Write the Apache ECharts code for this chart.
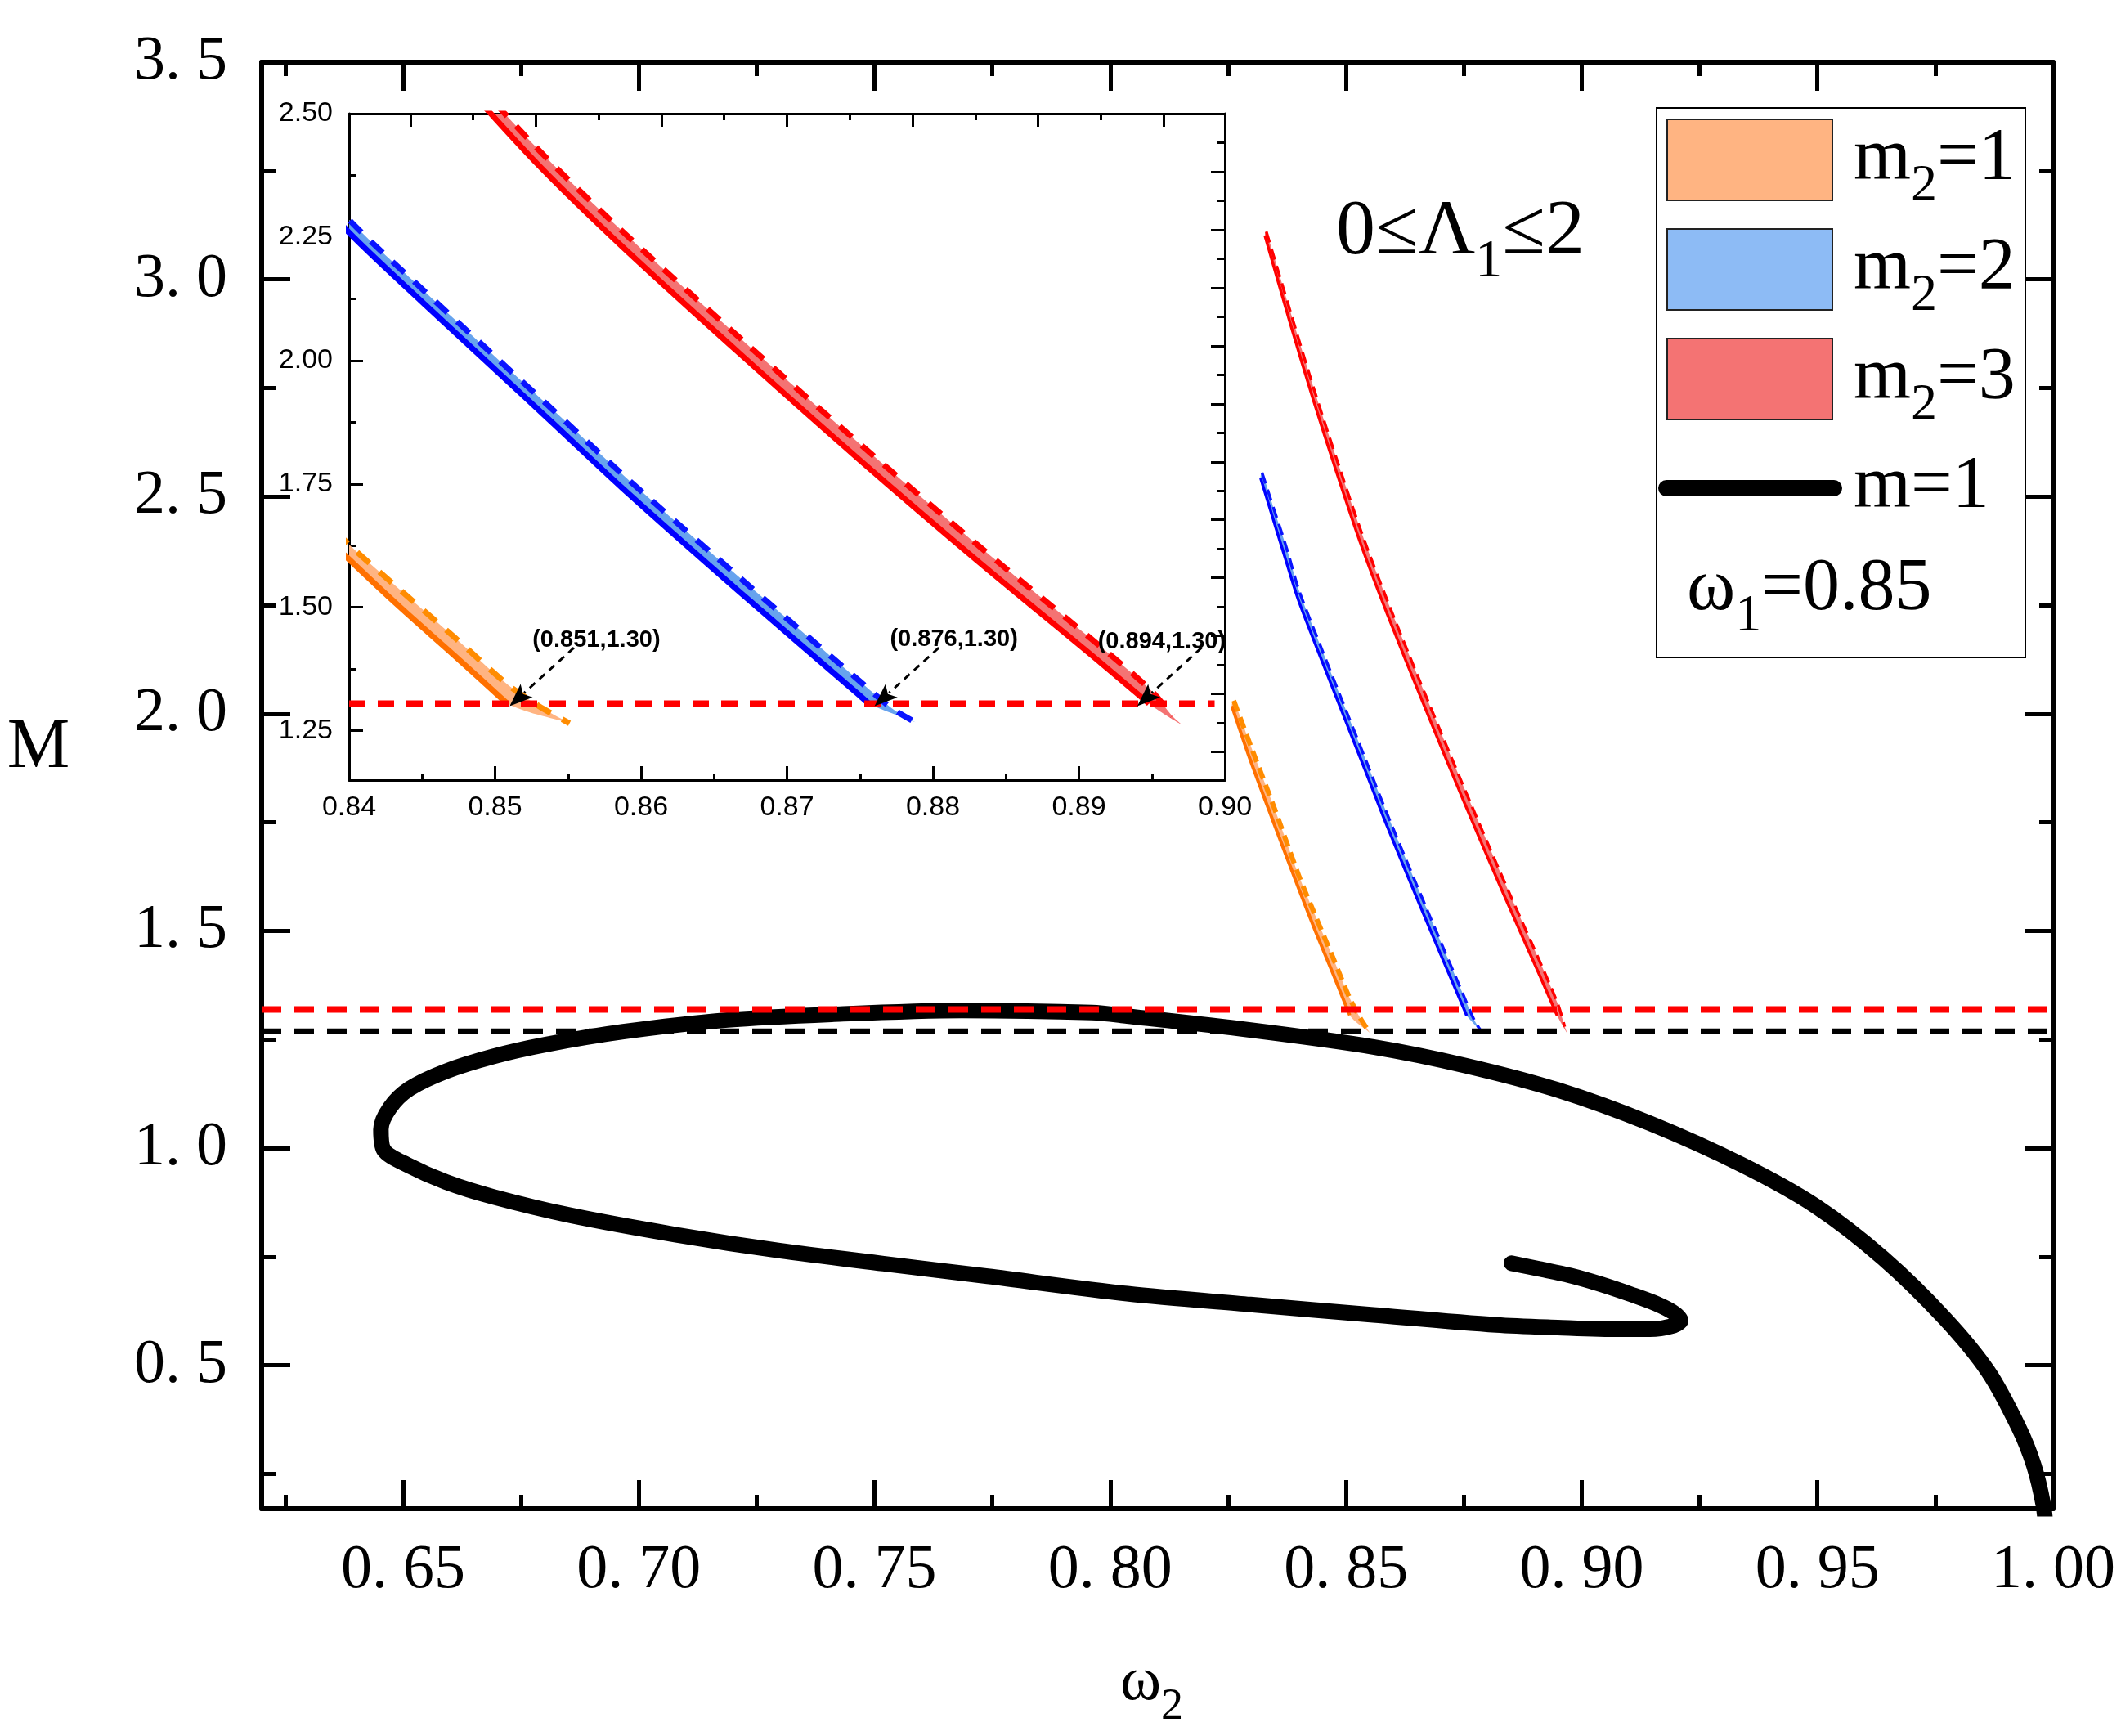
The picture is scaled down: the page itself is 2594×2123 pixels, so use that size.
<!DOCTYPE html>
<html>
<head>
<meta charset="utf-8">
<script src="https://cdn.jsdelivr.net/npm/echarts@6/dist/echarts.min.js"></script>
<style>
  html, body { margin: 0; padding: 0; background: #fff; }
  #chart-container { width: 2594px; height: 2123px; }
</style>
</head>
<body>
<div id="chart-container"></div>
<script>
var dom = document.getElementById("chart-container");
var myChart = echarts.init(dom, null, { renderer: "canvas" });

// ---- data ----
// m=1 curve (omega2, M), traced from the lower right end to the hook
const blackCurve = [
  [0.9985, 0.120], [0.9979, 0.180], [0.9959, 0.270], [0.9927, 0.357], [0.9862, 0.486],
  [0.9771, 0.607], [0.9640, 0.746], [0.9497, 0.866], [0.9341, 0.961], [0.9145, 1.057],
  [0.8949, 1.134], [0.8754, 1.190], [0.8558, 1.233], [0.8297, 1.272], [0.8036, 1.304],
  [0.7961, 1.312], [0.7685, 1.317], [0.7409, 1.308], [0.7188, 1.295], [0.6967, 1.268],
  [0.6801, 1.238], [0.6691, 1.211], [0.6591, 1.177], [0.6514, 1.137], [0.6472, 1.093],
  [0.6453, 1.043], [0.6459, 0.996], [0.6508, 0.962], [0.6591, 0.922], [0.6691, 0.888],
  [0.6856, 0.845], [0.7077, 0.801], [0.7298, 0.764], [0.7519, 0.734], [0.7740, 0.705],
  [0.8036, 0.665], [0.8297, 0.640], [0.8558, 0.616], [0.8819, 0.593], [0.8949, 0.587],
  [0.9079, 0.583], [0.9145, 0.583], [0.9190, 0.590], [0.9210, 0.603], [0.9197, 0.620],
  [0.9158, 0.642], [0.9106, 0.663], [0.9040, 0.687], [0.8975, 0.707], [0.8910, 0.722],
  [0.8851, 0.735]
];

// m2 = 1 (Lambda1 = 0 solid, Lambda1 = 2 dashed)
const orangeSolid = [[0.8258, 2.018], [0.8295, 1.900], [0.8344, 1.757], [0.8400, 1.597], [0.8435, 1.500], [0.8473, 1.400], [0.8508, 1.306]];
const orangeDashed = [[0.8262, 2.030], [0.8300, 1.920], [0.8350, 1.777], [0.8400, 1.627], [0.8435, 1.535], [0.8473, 1.437], [0.8508, 1.345], [0.8530, 1.300], [0.8551, 1.265]];
// m2 = 2
const blueSolid = [[0.8319, 2.5425], [0.8345, 2.450], [0.8372, 2.355], [0.8400, 2.259], [0.8451, 2.116], [0.8497, 1.990], [0.8540, 1.872], [0.8587, 1.742], [0.8668, 1.530], [0.8750, 1.321], [0.8756, 1.305]];
const blueDashed = [[0.8322, 2.555], [0.8348, 2.468], [0.8375, 2.378], [0.8400, 2.285], [0.8451, 2.142], [0.8497, 2.016], [0.8540, 1.899], [0.8587, 1.770], [0.8668, 1.559], [0.8750, 1.350], [0.8772, 1.295], [0.8788, 1.267]];
// m2 = 3
const redSolid = [[0.8328, 3.101], [0.8380, 2.905], [0.8430, 2.725], [0.8480, 2.556], [0.8530, 2.395], [0.8587, 2.231], [0.8668, 2.013], [0.8750, 1.798], [0.8831, 1.593], [0.8912, 1.395], [0.8948, 1.305]];
const redDashed = [[0.8331, 3.110], [0.8383, 2.922], [0.8433, 2.744], [0.8483, 2.577], [0.8533, 2.417], [0.8590, 2.254], [0.8671, 2.037], [0.8753, 1.823], [0.8834, 1.618], [0.8915, 1.420], [0.8950, 1.330], [0.8964, 1.2795]];
const bandTips = [[0.8551, 1.265], [0.8788, 1.267], [0.8970, 1.263]];

// horizontal reference levels: main plot (red, black) and inset (red)
const mainLevels = [1.319, 1.269];
const insetLevel = 1.305;
// annotated crossing points in the inset
const annotPoints = [[0.851, 1.30], [0.876, 1.30], [0.894, 1.30]];

// ticks
const xMajor = [0.65, 0.70, 0.75, 0.80, 0.85, 0.90, 0.95, 1.00];
const xMinor = [0.625, 0.675, 0.725, 0.775, 0.825, 0.875, 0.925, 0.975];
const yMajor = [0.5, 1.0, 1.5, 2.0, 2.5, 3.0, 3.5];
const yMinor = [0.25, 0.75, 1.25, 1.75, 2.25, 2.75, 3.25];
const inXMajor = [0.84, 0.85, 0.86, 0.87, 0.88, 0.89, 0.90];
const inXMinor = [0.845, 0.855, 0.865, 0.875, 0.885, 0.895];
const inYMajor = [1.25, 1.50, 1.75, 2.00, 2.25, 2.50];
const inYMinor = [1.375, 1.625, 1.875, 2.125, 2.375];
const inTopMajor = [0.8442, 0.8528, 0.8614, 0.8700, 0.8786, 0.8872, 0.8958];
const inTopMinor = [0.8485, 0.8571, 0.8657, 0.8743, 0.8829, 0.8915];
const inRightMajor = [2.3825, 2.2649, 2.1474, 2.0298, 1.9123, 1.7947, 1.6772, 1.5596, 1.4421, 1.3245, 1.2070];
const inRightMinor = [2.4412, 2.3237, 2.2061, 2.0886, 1.9710, 1.8535, 1.7359, 1.6184, 1.5008, 1.3833, 1.2657];

// ---- styles ----
const groups = [
  { solid: orangeSolid, dashed: orangeDashed, tip: bandTips[0], line: "#FF7000", dash: "#FF8C00", band: "#FFB482", mainW: 4, mainDW: 6 },
  { solid: blueSolid, dashed: blueDashed, tip: bandTips[1], line: "#0000FF", dash: "#0A14FF", band: "#67A3EE", mainW: 3.5, mainDW: 3.5 },
  { solid: redSolid, dashed: redDashed, tip: bandTips[2], line: "#FF0000", dash: "#FF0000", band: "#F47373", mainW: 3.5, mainDW: 3.5 }
];
const legendColors = ["#FFB482", "#8DBBF5", "#F47373"];
const serif = "Liberation Serif";
const sans = "Liberation Sans";

function spaced(v, n) {
  return v.toFixed(n).replace(".", ". ");
}

function mkAxis(o) {
  return {
    type: "value",
    gridIndex: o.grid,
    position: o.pos,
    min: o.min,
    max: o.max,
    axisLine: { show: !!o.line, onZero: false, lineStyle: { color: "#000", width: o.line || 1 } },
    axisTick: { show: true, inside: true, length: o.len, lineStyle: { color: "#000", width: o.tw }, customValues: o.ticks },
    axisLabel: o.label ? Object.assign({ show: true, customValues: o.ticks, color: "#000" }, o.label) : { show: false },
    splitLine: { show: false },
    minorTick: { show: false },
    axisPointer: { show: false }
  };
}

const mainX = { grid: 0, min: 0.62, max: 1.0 };
const mainY = { grid: 0, min: 0.17, max: 3.5 };
const inX = { grid: 1, min: 0.84, max: 0.90 };
const inY = { grid: 1, min: 1.15, max: 2.50 };

const xAxes = [
  mkAxis(Object.assign({}, mainX, { pos: "bottom", line: 6, ticks: xMajor, len: 35, tw: 5,
    label: { fontFamily: serif, fontSize: 76, margin: 38, formatter: function (v) { return spaced(v, 2); } } })),
  mkAxis(Object.assign({}, mainX, { pos: "bottom", ticks: xMinor, len: 17, tw: 5 })),
  mkAxis(Object.assign({}, mainX, { pos: "top", line: 6, ticks: xMajor, len: 35, tw: 5 })),
  mkAxis(Object.assign({}, mainX, { pos: "top", ticks: xMinor, len: 17, tw: 5 })),
  mkAxis(Object.assign({}, inX, { pos: "bottom", line: 3, ticks: inXMajor, len: 17, tw: 3,
    label: { fontFamily: sans, fontSize: 34, margin: 17, formatter: function (v) { return v.toFixed(2); } } })),
  mkAxis(Object.assign({}, inX, { pos: "bottom", ticks: inXMinor, len: 8, tw: 3 })),
  mkAxis(Object.assign({}, inX, { pos: "top", line: 3, ticks: inTopMajor, len: 16, tw: 3 })),
  mkAxis(Object.assign({}, inX, { pos: "top", ticks: inTopMinor, len: 8, tw: 3 }))
];
const yAxes = [
  mkAxis(Object.assign({}, mainY, { pos: "left", line: 6, ticks: yMajor, len: 35, tw: 5,
    label: { fontFamily: serif, fontSize: 76, margin: 42, formatter: function (v) { return spaced(v, 1); } } })),
  mkAxis(Object.assign({}, mainY, { pos: "left", ticks: yMinor, len: 17, tw: 5 })),
  mkAxis(Object.assign({}, mainY, { pos: "right", line: 6, ticks: yMajor, len: 35, tw: 5 })),
  mkAxis(Object.assign({}, mainY, { pos: "right", ticks: yMinor, len: 17, tw: 5 })),
  mkAxis(Object.assign({}, inY, { pos: "left", line: 3, ticks: inYMajor, len: 17, tw: 3,
    label: { fontFamily: sans, fontSize: 34, margin: 20, formatter: function (v) { return v.toFixed(2); } } })),
  mkAxis(Object.assign({}, inY, { pos: "left", ticks: inYMinor, len: 8, tw: 3 })),
  mkAxis(Object.assign({}, inY, { pos: "right", line: 3, ticks: inRightMajor, len: 17, tw: 3 })),
  mkAxis(Object.assign({}, inY, { pos: "right", ticks: inRightMinor, len: 10, tw: 3 }))
];

function lineSeries(data, axisIdx, color, width, dash, z, smooth) {
  return {
    type: "line", xAxisIndex: axisIdx, yAxisIndex: axisIdx, data: data,
    showSymbol: false, symbol: "none", silent: true, z: z, clip: true, smooth: smooth || false,
    lineStyle: { color: color, width: width, type: dash || "solid", cap: "butt", join: "round" }
  };
}

function bandSeries(g, axisIdx) {
  var poly = g.solid.concat([g.tip], g.dashed.slice().reverse());
  return {
    type: "custom", xAxisIndex: axisIdx, yAxisIndex: axisIdx, clip: true, silent: true, z: 3,
    data: [poly[0]],
    renderItem: function (params, api) {
      return {
        type: "polygon",
        shape: { points: poly.map(function (p) { return api.coord(p); }), smooth: 0.3 },
        style: { fill: g.band }
      };
    }
  };
}

var series = [];
// main plot
series.push(lineSeries(blackCurve, 0, "#000", 19, null, 2, 0.3));
series[0].lineStyle.cap = "round";
groups.forEach(function (g) {
  series.push(bandSeries(g, 0));
  series.push(lineSeries(g.solid, 0, g.line, g.mainW, null, 4, 0.3));
  series.push(lineSeries(g.dashed, 0, g.dash, g.mainDW, [14, 8], 5, 0.3));
});
series.push(lineSeries([[mainX.min, mainLevels[0]], [mainX.max, mainLevels[0]]], 0, "#FF0000", 8, [24, 16], 7));
series.push(lineSeries([[mainX.min, mainLevels[1]], [mainX.max, mainLevels[1]]], 0, "#000", 7, [24, 16], 6));

// inset
groups.forEach(function (g) {
  series.push(bandSeries(g, 4));
  series.push(lineSeries(g.solid, 4, g.line, 7, null, 4, 0.3));
  series.push(lineSeries(g.dashed, 4, g.dash, 7, [20, 16], 5, 0.3));
});
series.push(lineSeries([[inX.min, insetLevel], [0.8993, insetLevel]], 4, "#FF0000", 8, [20, 15], 7));

// annotation arrows (dashed shaft + filled head) and labels
const arrowTail = [0.0044, 0.118];
const annotLabelOffset = [[106, -80], [97, -81], [30, -78]];
series.push({
  type: "custom", xAxisIndex: 4, yAxisIndex: 4, clip: false, silent: true, z: 10,
  data: annotPoints,
  renderItem: function (params, api) {
    var p = annotPoints[params.dataIndex];
    var tip = api.coord(p);
    var tail = api.coord([p[0] + arrowTail[0], p[1] + arrowTail[1]]);
    var dx = tip[0] - tail[0], dy = tip[1] - tail[1];
    var len = Math.sqrt(dx * dx + dy * dy);
    var ux = dx / len, uy = dy / len, nx = -uy, ny = ux;
    var L = 28, W = 11;
    var bx = tip[0] - ux * L, by = tip[1] - uy * L;
    var off = annotLabelOffset[params.dataIndex];
    return {
      type: "group",
      children: [
        { type: "line", shape: { x1: tail[0], y1: tail[1], x2: bx + ux * 4, y2: by + uy * 4 },
          style: { stroke: "#000", lineWidth: 3, lineDash: [9, 7] } },
        { type: "polygon", shape: { points: [tip, [bx + nx * W, by + ny * W], [bx + ux * 6, by + uy * 6], [bx - nx * W, by - ny * W]] },
          style: { fill: "#000" } },
        { type: "text", x: tip[0] + off[0], y: tip[1] + off[1],
          style: { text: "(" + p[0].toFixed(3) + "," + p[1].toFixed(2) + ")", font: 'bold 29px "' + sans + '"', fill: "#000",
            align: "center", verticalAlign: "middle", textAlign: "center", textVerticalAlign: "middle" } }
      ]
    };
  }
});

// ---- text with subscripts, placed by baseline ----
var measureCtx = document.createElement("canvas").getContext("2d");
function textRun(x, baseline, parts) {
  var els = [];
  var cx = x;
  parts.forEach(function (pt) {
    var font = pt[1] + 'px "' + serif + '"';
    measureCtx.font = font;
    els.push({
      type: "text", x: cx, y: baseline + pt[2] - 0.3375 * pt[1], z: 100,
      style: { text: pt[0], font: font, fill: "#000", align: "left", verticalAlign: "middle", textAlign: "left", textVerticalAlign: "middle" }
    });
    cx += measureCtx.measureText(pt[0]).width;
  });
  return els;
}

var graphics = [
  { type: "rect", z: 90, shape: { x: 2026, y: 132, width: 451, height: 672 }, style: { fill: "#fff", stroke: "#000", lineWidth: 2 } }
];
legendColors.forEach(function (c, i) {
  graphics.push({ type: "rect", z: 95, shape: { x: 2039, y: 146 + i * 134, width: 202, height: 99 }, style: { fill: c, stroke: "#222", lineWidth: 2 } });
  graphics = graphics.concat(textRun(2267, 226 + i * 134, [["m", 90, 0], ["2", 64, 24], ["=" + (i + 1), 90, 0]]));
});
graphics.push({ type: "line", z: 95, shape: { x1: 2038, y1: 597, x2: 2243, y2: 597 }, style: { stroke: "#000", lineWidth: 20, lineCap: "round" } });
graphics = graphics.concat(textRun(2267, 627, [["m=1", 90, 0]]));
graphics = graphics.concat(textRun(2063, 752, [["\u03c9", 90, 0], ["1", 64, 24], ["=0.85", 90, 0]]));
graphics = graphics.concat(textRun(1634, 317, [["0\u2264\u039b", 96, 0], ["1", 66, 26], ["\u22642", 96, 0]]));
graphics = graphics.concat(textRun(1370, 2084, [["\u03c9", 76, 0], ["2", 54, 22]]));
graphics.push({
  type: "text", x: 47, y: 915, z: 100,
  style: { text: "M", font: '86px "' + serif + '"', fill: "#000", align: "center", verticalAlign: "middle", textAlign: "center", textVerticalAlign: "middle" }
});

var option = {
  animation: false,
  backgroundColor: "#fff",
  grid: [
    { left: 320, right: 83, top: 76, bottom: 278, containLabel: false, outerBoundsMode: "none" },
    { left: 427, right: 1096, top: 139, bottom: 1169, containLabel: false, outerBoundsMode: "none" }
  ],
  xAxis: xAxes,
  yAxis: yAxes,
  series: series,
  graphic: graphics
};

myChart.setOption(option);
window.addEventListener("resize", myChart.resize);
</script>
</body>
</html>
